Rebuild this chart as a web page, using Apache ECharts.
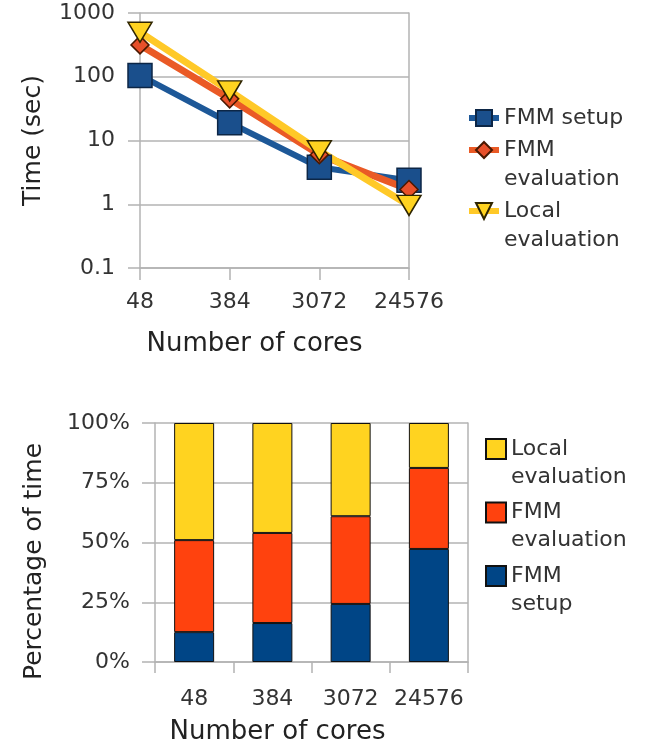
<!DOCTYPE html>
<html>
<head>
<meta charset="utf-8">
<script src="https://cdn.jsdelivr.net/npm/echarts@6/dist/echarts.min.js"></script>
<style>
html, body { margin: 0; padding: 0; background: #fff; }
#chart { width: 649px; height: 752px; }
</style>
</head>
<body>
<div id="chart"></div>
<script>
/* data */
var cores = ['48', '384', '3072', '24576'];
// time in seconds (log axis)
var fmmSetup = [105, 19, 3.8, 2.37];
var fmmEval = [316, 45, 6, 1.7];
var localEval = [500, 60, 6.9, 0.96];
// share of time, percent
var setupPct = [12.5, 16.3, 24.3, 47.3];
var evalPct = [38.5, 37.7, 36.7, 33.9];
var localPct = [49.0, 46.0, 39.0, 18.8];
var timeTicks = [0.1, 1, 10, 100, 1000];

var font = 'DejaVu Sans';
var gridColor = '#b3b3b3';
var textColor = '#333';

var blue = '#004586', orange = '#ff420e', yellow = '#ffd320';

/* legend text: blank first line so the symbol sits beside the first word */
function twoLines(name) {
	var s = name.replace(' share', '');
	if (s === 'FMM setup' && name === s) return s;
	var i = s.indexOf(' ');
	return ' \n' + s.substring(0, i) + '\n' + s.substring(i + 1);
}

var optionAll = {
	backgroundColor : '#fff',
	animation : false,
	textStyle : { fontFamily : font },
	grid : [
		{ left : 140, right : 240, top : 13, bottom : 484 },
		{ left : 155, right : 181, top : 423, bottom : 90 }
	],
	legend : [ {
		orient : 'vertical',
		left : 466,
		top : 103.5,
		padding : 0,
		itemWidth : 30,
		itemHeight : 20,
		itemGap : -26,
		lineStyle : { width : 6 },
		textStyle : { fontFamily : font, fontSize : 22, lineHeight : 29, color : textColor },
		formatter : twoLines,
		data : [ 'FMM setup', 'FMM evaluation', 'Local evaluation' ]
	}, {
		orient : 'vertical',
		left : 485,
		top : 407,
		padding : 0,
		itemWidth : 20,
		itemHeight : 20,
		itemGap : -20.5,
		icon : 'rect',
		textStyle : { fontFamily : font, fontSize : 22, lineHeight : 28, color : textColor },
		formatter : twoLines,
		data : [ 'Local evaluation share', 'FMM evaluation share', 'FMM setup share' ]
	} ],
	xAxis : [ {
		type : 'category',
		gridIndex : 0,
		data : cores,
		boundaryGap : false,
		name : 'Number of cores',
		nameLocation : 'middle',
		nameGap : 63,
		nameTextStyle : { fontFamily : font, fontSize : 26, color : '#222', padding : [ 0, 40, 0, 0 ] },
		axisLine : { lineStyle : { color : gridColor, width : 1.5 } },
		axisTick : { length : 12, lineStyle : { color : gridColor, width : 1.5 } },
		axisLabel : { fontFamily : font, fontSize : 22, color : textColor, margin : 23, interval : 0 },
		splitLine : { show : false }
	}, {
		type : 'category',
		gridIndex : 1,
		data : cores,
		name : 'Number of cores',
		nameLocation : 'middle',
		nameGap : 57,
		nameTextStyle : { fontFamily : font, fontSize : 26, color : '#222', padding : [ 0, 68, 0, 0 ] },
		axisLine : { lineStyle : { color : gridColor, width : 1.5 } },
		axisTick : { show : true, length : 11, interval : 0, lineStyle : { color : gridColor, width : 1.5 } },
		axisLabel : { fontFamily : font, fontSize : 22, color : textColor, margin : 26, interval : 0 },
		splitLine : { show : false }
	} ],
	yAxis : [ {
		type : 'log',
		logBase : 10,
		gridIndex : 0,
		min : timeTicks[0],
		max : timeTicks[timeTicks.length - 1],
		name : 'Time (sec)',
		nameLocation : 'middle',
		nameRotate : 90,
		nameGap : 94,
		nameTextStyle : { fontFamily : font, fontSize : 25, color : '#222' },
		axisLine : { show : true, lineStyle : { color : gridColor, width : 1.5 } },
		axisTick : { show : true, length : 12, lineStyle : { color : gridColor, width : 1.5 } },
		axisLabel : {
			fontFamily : font, fontSize : 22, color : textColor, margin : 25,
			formatter : function(v) { return String(+v.toPrecision(3)); }
		},
		splitLine : { show : true, lineStyle : { color : gridColor, width : 1.5 } }
	}, {
		type : 'value',
		gridIndex : 0,
		position : 'right',
		axisLine : { show : true, lineStyle : { color : gridColor, width : 1.5 } },
		axisTick : { show : false },
		axisLabel : { show : false },
		splitLine : { show : false }
	}, {
		type : 'value',
		gridIndex : 1,
		min : 0,
		max : 100,
		interval : 25,
		name : 'Percentage of time',
		nameLocation : 'middle',
		nameRotate : 90,
		nameGap : 108,
		nameTextStyle : { fontFamily : font, fontSize : 25, color : '#222', padding : [ 0, 38, 0, 0 ] },
		axisLine : { show : true, lineStyle : { color : gridColor, width : 1.5 } },
		axisTick : { show : true, length : 13, lineStyle : { color : gridColor, width : 1.5 } },
		axisLabel : { fontFamily : font, fontSize : 22, color : textColor, margin : 25, formatter : '{value}%' },
		splitLine : { show : true, lineStyle : { color : gridColor, width : 1.5 } }
	}, {
		type : 'value',
		gridIndex : 1,
		position : 'right',
		axisLine : { show : true, lineStyle : { color : gridColor, width : 1.5 } },
		axisTick : { show : false },
		axisLabel : { show : false },
		splitLine : { show : false }
	} ],
	series : [ {
		name : 'FMM setup',
		type : 'line',
		xAxisIndex : 0,
		yAxisIndex : 0,
		data : fmmSetup,
		symbol : 'rect',
		symbolSize : 24,
		lineStyle : { color : '#1d5898', width : 6 },
		itemStyle : { color : '#1a4f8c', borderColor : '#0c2646', borderWidth : 1.5 }
	}, {
		name : 'FMM evaluation',
		type : 'line',
		xAxisIndex : 0,
		yAxisIndex : 0,
		data : fmmEval,
		symbol : 'diamond',
		symbolSize : 18,
		lineStyle : { color : '#ea5a26', width : 7 },
		itemStyle : { color : '#e8502a', borderColor : '#4a1800', borderWidth : 1.5 }
	}, {
		name : 'Local evaluation',
		type : 'line',
		xAxisIndex : 0,
		yAxisIndex : 0,
		data : localEval,
		symbol : 'triangle',
		symbolRotate : 180,
		symbolSize : [ 24, 20 ],
		lineStyle : { color : '#ffc928', width : 7 },
		itemStyle : { color : yellow, borderColor : '#2e2400', borderWidth : 1.5 }
	}, {
		name : 'FMM setup share',
		type : 'bar',
		xAxisIndex : 1,
		yAxisIndex : 2,
		stack : 'pct',
		barWidth : 40,
		data : setupPct,
		itemStyle : { color : blue, borderColor : '#111', borderWidth : 1 }
	}, {
		name : 'FMM evaluation share',
		type : 'bar',
		xAxisIndex : 1,
		yAxisIndex : 2,
		stack : 'pct',
		barWidth : 40,
		data : evalPct,
		itemStyle : { color : orange, borderColor : '#111', borderWidth : 1 }
	}, {
		name : 'Local evaluation share',
		type : 'bar',
		xAxisIndex : 1,
		yAxisIndex : 2,
		stack : 'pct',
		barWidth : 40,
		data : localPct,
		itemStyle : { color : yellow, borderColor : '#111', borderWidth : 1 }
	} ]
};

var myChart = echarts.init(document.getElementById('chart'), null, { renderer : 'canvas' });
myChart.setOption(optionAll, true);
</script>
</body>
</html>
